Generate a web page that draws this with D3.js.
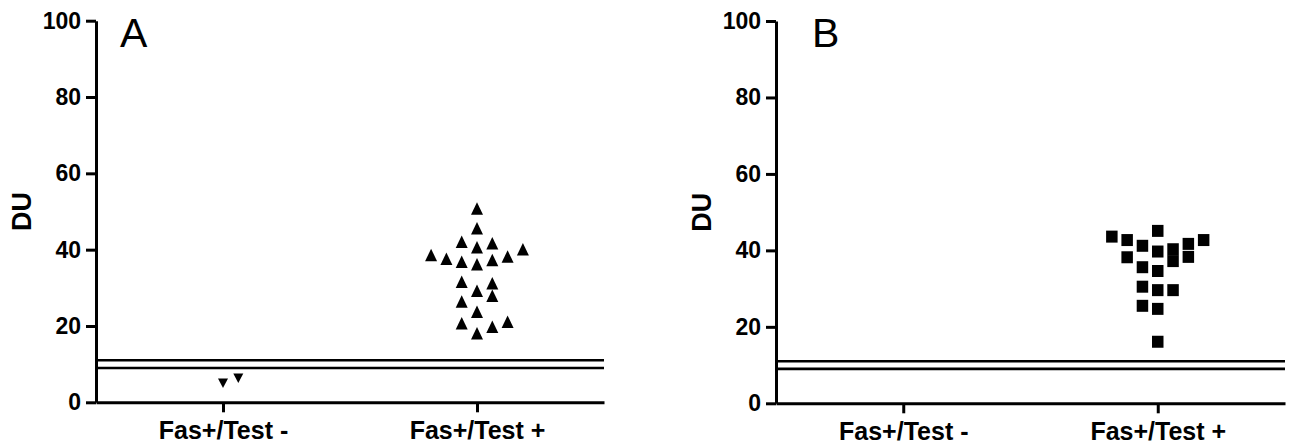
<!DOCTYPE html>
<html>
<head>
<meta charset="utf-8">
<script src="https://cdn.jsdelivr.net/npm/d3@7"></script>
<style>
  html, body { margin: 0; padding: 0; background: #fff; }
  svg { display: block; }
  text { font-family: "Liberation Sans", Arial, sans-serif; }
</style>
</head>
<body>
<svg id="chart" width="1290" height="447"></svg>
<script>
// ---- data ----
const categories = ["Fas+/Test -", "Fas+/Test +"];
const yTicks = [0, 20, 40, 60, 80, 100];
const cutoffs = [9, 11];

// Panel A (triangles): values and column slots
const aNegValues = [5.0, 6.3];
const aNegSlots  = [0, 1];
const aPosValues = [50.8, 45.6, 42.1, 40.6, 41.7, 40.1, 38.6, 37.6, 36.8, 36.2, 37.3, 38.2,
                    31.6, 29.2, 31.2, 27.9, 26.4, 23.7, 20.7, 18.1, 19.8, 21.1];
const aPosSlots  = [0, 0, -1, 0, 1, 3, -3, -2, -1, 0, 1, 2,
                    -1, 0, 1, 1, -1, 0, -1, 0, 1, 2];

// Panel B (squares)
const bNegValues = [];
const bNegSlots  = [];
const bPosValues = [45.1, 43.6, 42.7, 41.2, 39.7, 40.3, 37.2, 41.7, 38.3, 42.7, 38.2,
                    35.6, 34.6, 30.5, 29.6, 29.6, 25.5, 24.7, 16.1];
const bPosSlots  = [0, -3, -2, -1, 0, 1, 1, 2, 2, 3, -2,
                    -1, 0, -1, 0, 1, -1, 0, 0];

// ---- drawing ----
const svg = d3.select("#chart");

function panel(cfg) {
  const g = svg.append("g");
  const y = d3.scaleLinear().domain([0, 100]).range([cfg.y0, cfg.y1]);
  const x = d3.scalePoint().domain(categories).range([cfg.x0, cfg.x1]).padding(0.5);
  const slotW = 15.3;

  // cutoff lines
  g.selectAll("line.cut").data(cutoffs).join("line")
    .attr("x1", cfg.x0).attr("x2", cfg.x1)
    .attr("y1", d => y(d)).attr("y2", d => y(d))
    .attr("stroke", "#000").attr("stroke-width", 2.6);

  // y axis
  const ya = g.append("g").attr("transform", `translate(${cfg.x0},0)`)
    .call(d3.axisLeft(y).tickValues(yTicks).tickSize(10).tickPadding(5).tickSizeOuter(0));
  // x axis
  const xa = g.append("g").attr("transform", `translate(0,${cfg.y0})`)
    .call(d3.axisBottom(x).tickSize(10).tickPadding(9).tickSizeOuter(0));
  [ya, xa].forEach(a => {
    a.select(".domain").attr("stroke", "#000").attr("stroke-width", 3);
    a.selectAll(".tick line").attr("stroke", "#000").attr("stroke-width", 3);
  });
  ya.selectAll(".tick text").attr("font-size", 23).attr("font-weight", "bold")
    .attr("fill", "#000").attr("font-family", "Liberation Sans, Arial, sans-serif");
  xa.selectAll(".tick text").attr("font-size", 25).attr("font-weight", "bold")
    .attr("fill", "#000").attr("font-family", "Liberation Sans, Arial, sans-serif");

  // axis title
  g.append("text")
    .attr("transform", `translate(${cfg.titleX},${(cfg.y0 + cfg.y1) / 2}) rotate(-90)`)
    .attr("text-anchor", "middle").attr("dy", "0.35em")
    .attr("font-size", 27).attr("font-weight", "bold").attr("fill", "#000")
    .text("DU");

  // panel letter
  g.append("text")
    .attr("x", cfg.letterX).attr("y", 47)
    .attr("font-size", 41).attr("fill", "#000")
    .text(cfg.letter);

  // points
  const groups = [
    {cat: categories[0], vals: cfg.negValues, slots: cfg.negSlots, shape: cfg.negShape},
    {cat: categories[1], vals: cfg.posValues, slots: cfg.posSlots, shape: cfg.posShape}
  ];
  groups.forEach(gr => {
    const pts = gr.vals.map((v, i) => ({v, s: gr.slots[i]}));
    g.selectAll(null).data(pts).join("path")
      .attr("transform", d => `translate(${x(gr.cat) + d.s * slotW},${y(d.v)})`)
      .attr("d", shapePath(gr.shape))
      .attr("fill", "#000");
  });
}

function shapePath(shape) {
  if (shape === "up") {
    const w = 12, h = 12.5;
    return `M0,${-h/2}L${w/2},${h/2}L${-w/2},${h/2}Z`;
  }
  if (shape === "down") {
    const w = 10, h = 9.5;
    return `M${-w/2},${-h/2}L${w/2},${-h/2}L0,${h/2}Z`;
  }
  const w = 11.5, h = 12;
  return `M${-w/2},${-h/2}h${w}v${h}h${-w}Z`;
}

panel({x0: 96, x1: 604, y0: 402.3, y1: 20.7, titleX: 22, letterX: 120, letter: "A",
       negValues: aNegValues, negSlots: aNegSlots, negShape: "down",
       posValues: aPosValues, posSlots: aPosSlots, posShape: "up"});
panel({x0: 776, x1: 1285, y0: 403.3, y1: 21, titleX: 702, letterX: 812, letter: "B",
       negValues: bNegValues, negSlots: bNegSlots, negShape: "square",
       posValues: bPosValues, posSlots: bPosSlots, posShape: "square"});
</script>
</body>
</html>
